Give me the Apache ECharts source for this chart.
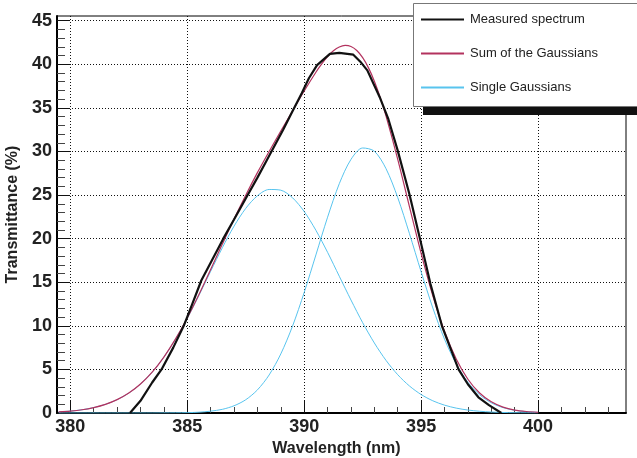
<!DOCTYPE html>
<html>
<head>
<meta charset="utf-8">
<script src="https://cdn.jsdelivr.net/npm/echarts@6/dist/echarts.min.js"></script>
<style>
html,body{margin:0;padding:0;background:#fff;}
#c{width:637px;height:458px;}
</style>
</head>
<body>
<div id="c"></div>
<script>
// ---- data ----
var xMajor = [380, 385, 390, 395, 400];
var xMinor = [381, 382, 383, 384, 386, 387, 388, 389, 391, 392, 393, 394, 396, 397, 398, 399, 401, 402, 403];
var yMajor = [0, 5, 10, 15, 20, 25, 30, 35, 40, 45];
var yMinor = [1,2,3,4,6,7,8,9,11,12,13,14,16,17,18,19,21,22,23,24,26,27,28,29,31,32,33,34,36,37,38,39,41,42,43,44];

var measuredX = [382.55, 383.0, 383.5, 383.9, 384.4, 384.85, 385.2, 385.6, 386.05, 386.54, 387.0, 387.5, 388.0, 388.4, 389.1, 389.5, 389.9, 390.2, 390.55, 391.1, 391.5, 392.1, 392.4, 392.7, 393.25, 393.6, 394.0, 394.5, 394.95, 395.4, 395.9, 396.6, 397.0, 397.45, 397.9, 398.43];
var measuredY = [0, 1.4, 3.5, 5.0, 7.5, 10.0, 12.4, 15.2, 17.5, 20.0, 22.2, 24.6, 27.0, 29.0, 32.5, 34.6, 36.7, 38.4, 39.9, 41.2, 41.3, 41.1, 40.3, 39.3, 36.1, 33.7, 30.1, 25.1, 20.0, 14.8, 9.9, 5.0, 3.3, 1.8, 0.9, 0];

var sumX = [379.5, 380, 380.5, 381, 381.5, 382, 382.5, 383, 383.5, 384, 384.5, 385, 385.5, 386, 386.5, 387, 387.5, 388, 388.5, 389, 389.5, 390, 390.5, 390.75, 391, 391.25, 391.5, 391.75, 392, 392.25, 392.5, 392.75, 393, 393.25, 393.5, 394, 394.5, 395, 395.5, 396, 396.5, 397, 397.5, 398, 398.5, 399, 399.5, 400];
var sumY = [0.13, 0.22, 0.37, 0.62, 0.99, 1.53, 2.29, 3.33, 4.69, 6.42, 8.50, 10.90, 13.59, 16.46, 19.38, 22.26, 24.99, 27.57, 30.00, 32.34, 34.65, 36.94, 39.09, 40.05, 40.89, 41.55, 41.99, 42.17, 42.05, 41.58, 40.76, 39.59, 38.06, 36.20, 34.05, 29.10, 23.68, 18.32, 13.45, 9.37, 6.19, 3.87, 2.29, 1.28, 0.68, 0.34, 0.17, 0.08];

var gaussX = [379.5, 380, 380.5, 381, 381.5, 382, 382.5, 383, 383.5, 384, 384.5, 385, 385.5, 386, 386.5, 387, 387.5, 388, 388.5, 389, 389.5, 390, 390.5, 391, 391.5, 392, 392.5, 393, 393.5, 394, 394.5, 395, 395.5, 396, 396.5, 397, 397.5, 398, 398.5, 399, 399.5, 400];
var gauss1Y = [0.13, 0.22, 0.37, 0.62, 0.99, 1.53, 2.29, 3.33, 4.69, 6.41, 8.48, 10.86, 13.50, 16.25, 18.96, 21.43, 23.47, 24.92, 25.64, 25.56, 24.69, 23.11, 20.96, 18.43, 15.69, 12.96, 10.36, 8.03, 6.03, 4.39, 3.10, 2.12, 1.40, 0.90, 0.56, 0.34, 0.20, 0.11, 0.06, 0.03, 0.02, 0.01];
var gauss2Y = [0, 0, 0, 0, 0, 0, 0, 0, 0, 0.01, 0.02, 0.04, 0.09, 0.21, 0.42, 0.83, 1.52, 2.65, 4.36, 6.78, 9.96, 13.83, 18.13, 22.46, 26.30, 29.09, 30.40, 30.03, 28.02, 24.71, 20.58, 16.20, 12.05, 8.47, 5.63, 3.53, 2.09, 1.17, 0.62, 0.31, 0.15, 0.07];

var seriesNames = ['Measured spectrum', 'Sum of the Gaussians', 'Single Gaussians'];
var X_MIN = 379.43, X_MAX = 403.76, Y_MIN = 0, Y_MAX = 45.54;

function pairs(xs, ys) { return xs.map(function (x, i) { return [x, ys[i]]; }); }

var FONT = '"Liberation Sans", Arial, Helvetica, sans-serif';
var chart = echarts.init(document.getElementById('c'), null, {renderer: 'canvas'});
var dotted = {color: '#111', width: 1, type: [1, 2]};

var option = {
  backgroundColor: '#fff',
  animation: false,
  grid: {left: 57, top: 16, width: 569, height: 397, outerBoundsMode: 'none', containLabel: false, show: true, borderColor: '#000', borderWidth: 1, backgroundColor: 'transparent'},
  xAxis: [{
    type: 'value', min: X_MIN, max: X_MAX, position: 'bottom',
    name: 'Wavelength (nm)', nameLocation: 'middle', nameGap: 27,
    nameTextStyle: {fontFamily: FONT, fontWeight: 'bold', fontSize: 16, color: '#222', padding: [0, 10, 0, 0]},
    axisLine: {show: true, onZero: false, lineStyle: {color: '#000', width: 2}},
    axisTick: {show: true, inside: true, length: 12, customValues: xMajor, lineStyle: {color: '#111', width: 1}},
    axisLabel: {show: true, customValues: xMajor, margin: 5, fontFamily: FONT, fontWeight: 'bold', fontSize: 18, color: '#222'},
    splitLine: {show: true, lineStyle: dotted}
  }, {
    type: 'value', min: X_MIN, max: X_MAX, position: 'bottom',
    axisLine: {show: false},
    axisTick: {show: true, inside: true, length: 6, customValues: xMinor, lineStyle: {color: '#444', width: 1}},
    axisLabel: {show: false},
    splitLine: {show: false}
  }],
  yAxis: [{
    type: 'value', min: Y_MIN, max: Y_MAX, position: 'left',
    name: 'Transmittance (%)', nameLocation: 'middle', nameGap: 32,
    nameTextStyle: {fontFamily: FONT, fontWeight: 'bold', fontSize: 16, color: '#222'},
    axisLine: {show: true, onZero: false, lineStyle: {color: '#000', width: 2}},
    axisTick: {show: true, inside: true, length: 13, customValues: yMajor, lineStyle: {color: '#111', width: 1}},
    axisLabel: {show: true, customValues: yMajor, margin: 5, fontFamily: FONT, fontWeight: 'bold', fontSize: 18, color: '#222'},
    splitLine: {show: true, lineStyle: dotted}
  }, {
    type: 'value', min: Y_MIN, max: Y_MAX, position: 'left', offset: 0,
    axisLine: {show: false},
    axisTick: {show: true, inside: true, length: 8, customValues: yMinor, lineStyle: {color: '#444', width: 1}},
    axisLabel: {show: false},
    splitLine: {show: false}
  }],
  legend: {
    orient: 'vertical', left: 420, top: 13, padding: 0, z: 200,
    itemWidth: 43, itemHeight: 14, itemGap: 21, selectedMode: false,
    itemStyle: {opacity: 0},
    data: seriesNames,
    textStyle: {fontFamily: FONT, fontSize: 13, color: '#222', padding: [0, 0, 0, 1]}
  },
  graphic: [
    {type: 'rect', z: 90, shape: {x: 423, y: 107, width: 220, height: 8}, style: {fill: '#111'}},
    {type: 'rect', z: 91, shape: {x: 413.5, y: 3.5, width: 240, height: 103}, style: {fill: '#fff', stroke: '#777', lineWidth: 1}}
  ],
  series: [
    {name: seriesNames[2], type: 'line', data: pairs(gaussX, gauss1Y), smooth: 0.3, symbol: 'none', lineStyle: {color: '#58c4ee', width: 1}, itemStyle: {color: '#58c4ee'}, z: 2},
    {name: seriesNames[2], type: 'line', data: pairs(gaussX, gauss2Y), smooth: 0.3, symbol: 'none', lineStyle: {color: '#58c4ee', width: 1}, itemStyle: {color: '#58c4ee'}, z: 2},
    {name: seriesNames[1], type: 'line', data: pairs(sumX, sumY), smooth: 0.3, symbol: 'none', lineStyle: {color: '#b3325e', width: 1.2}, itemStyle: {color: '#b3325e'}, z: 3},
    {name: seriesNames[0], type: 'line', data: pairs(measuredX, measuredY), smooth: false, symbol: 'none', lineStyle: {color: '#111', width: 2.2}, itemStyle: {color: '#111'}, z: 4}
  ]
};
chart.setOption(option);
</script>
</body>
</html>
